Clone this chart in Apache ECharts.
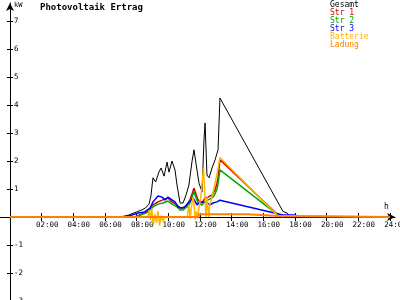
<!DOCTYPE html>
<html><head><meta charset="utf-8">
<script src="https://cdn.jsdelivr.net/npm/echarts@6/dist/echarts.min.js"></script>
<style>html,body{margin:0;padding:0;background:#fff}#c{width:400px;height:300px}</style>
</head><body><div id="c"></div>
<script>
const title = 'Photovoltaik Ertrag';
const legendNames = ['Gesamt', 'Str 1', 'Str 2', 'Str 3', 'Batterie', 'Ladung'];
const xTicks = [2, 4, 6, 8, 10, 12, 14, 16, 18, 20, 22, 24];
const yTicks = [-3, -2, -1, 1, 2, 3, 4, 5, 6, 7];

const gesamtT = [6.9, 7.2, 7.5, 7.8, 8.0, 8.3, 8.55, 8.78, 8.9, 9.03, 9.2, 9.4, 9.54, 9.73, 9.92, 10.04, 10.23, 10.42, 10.55, 10.74, 10.93, 11.12, 11.3, 11.5, 11.62, 11.75, 11.94, 12.13, 12.25, 12.32, 12.44, 12.57, 12.76, 12.95, 13.14, 13.26, 17.24, 17.5, 17.68];
const gesamtV = [0, 0.03, 0.07, 0.14, 0.18, 0.25, 0.32, 0.46, 0.75, 1.4, 1.25, 1.6, 1.75, 1.46, 1.96, 1.6, 2.0, 1.68, 1.14, 0.5, 0.5, 0.79, 1.14, 2.0, 2.4, 1.9, 1.2, 0.9, 2.75, 3.36, 1.5, 1.4, 1.75, 2.04, 2.4, 4.25, 0.2, 0.14, 0.02];

const str3T = [7.2, 7.7, 8.1, 8.5, 8.85, 9.03, 9.35, 9.6, 9.8, 9.98, 10.23, 10.42, 10.61, 10.86, 11.05, 11.25, 11.56, 11.81, 11.99, 12.19, 12.44, 12.63, 12.82, 13.07, 13.26, 17.24, 18.05, 18.1];
const str3V = [0, 0.07, 0.14, 0.18, 0.32, 0.54, 0.75, 0.71, 0.61, 0.71, 0.61, 0.54, 0.36, 0.32, 0.36, 0.5, 0.68, 0.43, 0.54, 0.54, 0.5, 0.43, 0.5, 0.54, 0.6, 0.07, 0.07, 0];

const str12T = [7.9, 8.0, 8.63, 8.85, 9.03, 9.35, 9.66, 9.98, 10.23, 10.55, 10.74, 10.93, 11.18, 11.37, 11.62, 11.87, 12.13, 12.32, 12.51, 12.76, 12.95, 13.07, 13.14, 13.26, 16.93, 17.1, 17.3];
const str1V = [0, 0.07, 0.18, 0.32, 0.43, 0.54, 0.61, 0.68, 0.54, 0.43, 0.32, 0.32, 0.43, 0.61, 1.03, 0.61, 0.5, 0.68, 0.71, 0.79, 0.96, 1.2, 1.4, 2.05, 0.07, 0.03, 0];
const str2V = [0, 0.05, 0.15, 0.26, 0.36, 0.46, 0.5, 0.57, 0.46, 0.36, 0.25, 0.25, 0.36, 0.5, 0.9, 0.5, 0.43, 0.57, 0.61, 0.68, 0.82, 1.0, 1.2, 1.68, 0.07, 0.03, 0];

const battT = [0, 8.7, 8.8, 8.88, 8.95, 9.05, 9.15, 9.25, 9.35, 9.45, 9.55, 9.65, 9.8, 11.2, 11.3, 11.38, 11.45, 11.55, 11.62, 11.7, 11.78, 11.85, 11.95, 12.05, 12.15, 12.22, 12.3, 12.38, 12.45, 12.55, 12.62, 12.7, 12.78, 12.88, 12.98, 13.1, 13.26, 16.9, 17.0, 24];
const battV = [0, 0, 0.25, -0.1, 0.3, -0.28, 0.1, -0.2, 0.2, -0.3, 0.05, -0.15, 0, 0, 0.43, -0.05, 0.3, 0.7, 0.5, -0.1, 0.2, -0.05, 0.4, 0.7, 1.3, 1.75, 0.9, 0, 0.7, 0.0, 0.45, 0.6, 0.8, 1.0, 1.3, 1.6, 2.12, 0.05, 0, 0];

const ladT = [0, 11.9, 11.95, 15.0, 15.05, 16.9, 16.95, 24];
const ladV = [0, 0, 0.1, 0.1, 0.04, 0.04, 0, 0];

const colors = ['#000000', '#cc0000', '#00aa00', '#0000ff', '#ffb400', '#ff8000'];
const mono = 'DejaVu Sans Mono';

function pairs(t, v) { return t.map((x, i) => [x, v[i]]); }
const seriesData = [pairs(gesamtT, gesamtV), pairs(str12T, str1V), pairs(str12T, str2V), pairs(str3T, str3V), pairs(battT, battV), pairs(ladT, ladV)];
const widths = [1, 1.5, 1.5, 1.5, 1.5, 2];

const yMin = -3, yMax = 7.643, gridTop = 3, gridH = 298;
// place the time axis on the zero line of the value axis
const zeroOffset = -gridH * (0 - yMin) / (yMax - yMin);

function hourLabel(v) {
  const h = Math.round(v);
  return '{a|' + (h < 10 ? '0' : '') + h + ':00}';
}

const chart = echarts.init(document.getElementById('c'), null, {renderer: 'canvas'});
const xBase = {type: 'value', min: 0, max: 24.32, position: 'bottom', offset: zeroOffset, splitLine: {show: false}};
const yBase = {type: 'value', min: yMin, max: yMax, position: 'left', splitLine: {show: false}};
chart.setOption({
  animation: false,
  backgroundColor: '#ffffff',
  grid: {left: 10, top: gridTop, width: 385.07, height: gridH, outerBoundsMode: 'none', containLabel: false},
  xAxis: [
    Object.assign({}, xBase, {
      axisLine: {onZero: false, lineStyle: {color: '#000', width: 1}, symbol: ['none', 'arrow'], symbolSize: [6, 8]},
      axisTick: {show: true, inside: false, length: 4, customValues: xTicks, lineStyle: {color: '#000'}},
      axisLabel: {show: true, customValues: xTicks, formatter: hourLabel, color: '#000', margin: 4,
        rich: {a: {fontFamily: mono, fontSize: 7.5, color: '#000', padding: [0, 0, 0, 11]}}}
    }),
    Object.assign({}, xBase, {
      axisLine: {show: false, onZero: false},
      axisTick: {show: true, inside: true, length: 4, customValues: xTicks, lineStyle: {color: '#000'}},
      axisLabel: {show: false}
    })
  ],
  yAxis: [
    Object.assign({}, yBase, {
      axisLine: {onZero: false, lineStyle: {color: '#000', width: 1}, symbol: ['none', 'arrow'], symbolSize: [6, 8]},
      axisTick: {show: true, inside: false, length: 3, customValues: yTicks, lineStyle: {color: '#000'}},
      axisLabel: {show: true, inside: true, customValues: yTicks, fontFamily: mono, fontSize: 7.5, color: '#000', margin: 4}
    }),
    Object.assign({}, yBase, {
      offset: 0,
      axisLine: {show: false, onZero: false},
      axisTick: {show: true, inside: true, length: 3, customValues: yTicks, lineStyle: {color: '#000'}},
      axisLabel: {show: false}
    })
  ],
  series: legendNames.map((n, i) => ({
    name: n, type: 'line', xAxisIndex: 0, yAxisIndex: 0,
    data: seriesData[i], showSymbol: false, symbol: 'none',
    lineStyle: {color: colors[i], width: widths[i]}, itemStyle: {color: colors[i]},
    z: 2 + i
  })),
  graphic: [
    {type: 'line', shape: {x1: 0, y1: 217.5, x2: 10, y2: 217.5}, style: {stroke: '#000', lineWidth: 1}},
    {type: 'text', left: 40, top: 3, style: {text: title, font: 'bold 9px ' + mono, fill: '#000'}},
    {type: 'text', left: 14, top: 2, style: {text: 'kW', font: '7px ' + mono, fill: '#000'}},
    {type: 'text', left: 384, top: 203, style: {text: 'h', font: '8px ' + mono, fill: '#000'}}
  ].concat(legendNames.map((n, i) => ({
    type: 'text', left: 330, top: 0.5 + i * 8, style: {text: n, font: '8px ' + mono, fill: colors[i]}
  })))
});
</script>
</body></html>
